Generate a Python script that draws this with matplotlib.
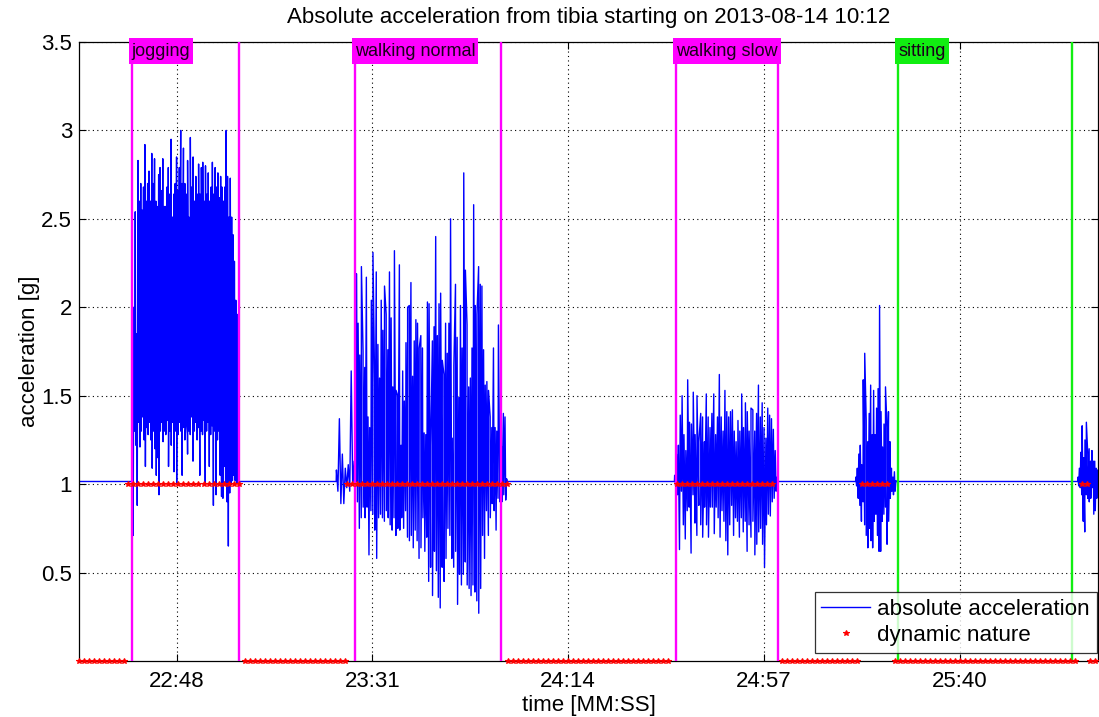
import numpy as np
import matplotlib
matplotlib.use("Agg")
import matplotlib.pyplot as plt
from matplotlib.patches import Rectangle
from matplotlib.transforms import blended_transform_factory

# ---------------- data ----------------
title = "Absolute acceleration from tibia starting on 2013-08-14 10:12"
xtick_sec = [1368, 1411, 1454, 1497, 1540]          # seconds (MM*60+SS)
xtick_labels = ["22:48", "23:31", "24:14", "24:57", "25:40"]
ytick_vals = [0.5, 1, 1.5, 2, 2.5, 3, 3.5]
ytick_labels = ["0.5", "1", "1.5", "2", "2.5", "3", "3.5"]
x_range = (1346.55, 1570.4)
baseline_g = 1.015

# activity annotations (seconds)
activity_names = ["jogging", "walking normal", "walking slow", "sitting"]
activity_start = [1358.1, 1407.1, 1477.8, 1526.5]
activity_end = [1381.7, 1439.2, 1500.2, 1564.7]
activity_colors = ["#FF00FF", "#FF00FF", "#FF00FF", "#11EE11"]

# bursts of motion in the acceleration signal: peaks (tops) and troughs (bottoms)
jog_tops = [1.47, 2.00, 2.54, 1.85, 2.83, 2.60, 2.70, 2.55, 2.68, 2.92, 2.60, 2.70, 2.77,
            2.60, 2.87, 2.70, 2.84, 2.60, 2.57, 2.75, 2.79, 2.66, 2.84, 2.57, 2.57, 2.68,
            2.79, 2.64, 2.95, 2.51, 2.64, 2.70, 2.85, 2.66, 2.79, 3.00, 2.70, 2.90, 2.70,
            2.64, 2.83, 2.51, 2.96, 2.68, 2.85, 2.60, 2.74, 2.64, 2.81, 2.64, 2.79, 2.82,
            2.60, 2.80, 2.64, 2.76, 2.60, 2.68, 2.82, 2.64, 2.79, 2.68, 2.76, 2.62, 2.74,
            2.68, 2.60, 2.68, 3.00, 2.74, 2.51, 2.73, 2.51, 2.41, 2.26, 2.04, 1.96, 1.28]
jog_bots = [0.71, 1.30, 1.22, 0.88, 1.35, 1.21, 1.30, 1.38, 1.25, 1.10, 1.32, 1.28, 1.35,
            1.25, 1.09, 1.30, 1.20, 1.05, 1.15, 0.94, 1.30, 1.35, 1.24, 1.30, 1.28, 1.36,
            1.10, 1.30, 1.22, 1.35, 1.07, 1.30, 1.00, 1.28, 1.35, 1.30, 1.05, 1.32, 1.25,
            1.35, 1.17, 1.30, 1.28, 1.38, 1.13, 1.30, 1.35, 1.25, 1.32, 1.05, 1.30, 1.28,
            1.36, 1.00, 1.30, 1.35, 1.10, 1.28, 1.33, 0.88, 1.30, 0.94, 1.25, 1.30, 1.05,
            0.93, 0.92, 1.10, 1.00, 0.90, 0.65, 0.95, 1.00, 1.02, 1.05, 1.02, 1.01, 1.01]
wn_pre_tops = [1.08, 1.37, 1.17, 1.09, 1.11, 1.64, 1.13]
wn_pre_bots = [0.96, 0.89, 0.89, 0.98, 0.96, 1.00]
wn_tops = [2.19, 1.91, 1.73, 2.23, 1.75, 1.66, 2.17, 1.38, 1.32, 2.04, 2.31, 1.58, 2.20,
           1.79, 1.60, 2.04, 1.87, 2.12, 1.96, 1.76, 2.20, 1.94, 1.55, 2.32, 1.53, 1.50,
           2.24, 1.22, 1.64, 1.47, 1.80, 2.00, 2.01, 2.14, 1.61, 1.81, 1.93, 1.91, 1.77,
           1.84, 1.77, 1.29, 1.28, 2.03, 2.02, 1.22, 1.81, 1.89, 2.40, 1.84, 2.02, 2.08,
           1.70, 1.62, 1.91, 1.74, 1.91, 2.50, 1.26, 1.67, 2.13, 1.83, 1.49, 2.01, 1.77,
           2.76, 2.21, 1.90, 1.55, 1.60, 1.77, 2.58, 2.01, 1.96, 2.23, 2.13, 2.12, 1.76,
           1.56, 1.58, 1.53, 1.38, 1.32, 1.77, 1.32, 1.30, 1.90, 1.22, 1.21, 1.40, 1.38,
           1.03]
wn_bots = [0.90, 0.75, 0.81, 0.87, 0.81, 0.87, 0.60, 0.85, 0.83, 0.74, 0.58, 0.81, 0.83,
           0.81, 0.79, 0.85, 0.81, 0.77, 0.74, 0.81, 0.71, 0.75, 0.74, 0.81, 0.75, 0.85,
           0.70, 0.68, 0.71, 0.64, 0.74, 0.68, 0.58, 0.64, 0.81, 0.62, 0.70, 0.45, 0.53,
           0.37, 0.62, 0.51, 0.36, 0.30, 0.53, 0.45, 0.58, 0.75, 0.71, 0.58, 0.53, 0.62,
           0.32, 0.49, 0.43, 0.49, 0.56, 0.43, 0.41, 0.37, 0.43, 0.39, 0.34, 0.27, 0.41,
           0.71, 0.58, 0.85, 0.71, 0.81, 0.89, 0.85, 0.74, 0.92, 0.90, 0.90, 0.94, 0.91]
ws_tops = [1.05, 1.17, 1.22, 1.39, 1.50, 1.28, 1.19, 1.59, 1.35, 1.34, 1.52, 1.28, 1.50,
           1.24, 1.40, 1.38, 1.24, 1.51, 1.38, 1.32, 1.40, 1.51, 1.28, 1.38, 1.62, 1.38,
           1.30, 1.53, 1.41, 1.38, 1.41, 1.42, 1.30, 1.24, 1.36, 1.30, 1.51, 1.32, 1.46,
           1.41, 1.30, 1.43, 1.42, 1.30, 1.40, 1.56, 1.38, 1.46, 1.32, 1.26, 1.43, 1.39,
           1.37, 1.31, 1.19, 1.04]
ws_bots = [0.99, 0.94, 0.63, 0.96, 0.77, 0.69, 0.85, 0.87, 0.61, 0.94, 0.78, 0.71, 0.88,
           0.77, 0.70, 0.87, 0.77, 0.70, 0.87, 0.87, 0.72, 0.87, 0.81, 0.70, 0.85, 0.79,
           0.68, 0.60, 0.77, 0.88, 0.71, 0.81, 0.79, 0.70, 0.81, 0.73, 0.79, 0.62, 0.77,
           0.70, 0.79, 0.60, 0.66, 0.73, 0.75, 0.66, 0.53, 0.77, 0.83, 0.82, 0.90, 0.92,
           0.96]
sw_tops = [1.04, 1.09, 1.17, 1.22, 1.11, 1.59, 1.74, 1.36, 1.24, 1.40, 1.56, 1.28, 1.53,
           1.28, 1.43, 1.54, 2.01, 1.41, 1.21, 1.34, 1.55, 1.32, 1.41, 1.24, 1.09, 1.04,
           1.07, 1.02]
sw_bots = [0.99, 0.92, 0.88, 0.79, 0.90, 0.77, 0.71, 0.64, 0.75, 0.68, 0.64, 0.79, 0.83,
           0.71, 0.62, 0.62, 0.79, 0.83, 0.87, 0.66, 0.79, 0.92, 0.96, 0.94, 0.96]
end_tops = [1.04, 1.09, 1.18, 1.33, 1.15, 1.25, 1.35, 1.17, 1.20, 1.13, 1.19, 1.13, 1.13,
            1.09, 1.08]
end_bots = [0.99, 0.98, 0.94, 0.79, 0.73, 0.94, 0.92, 0.90, 0.92, 0.98, 0.83, 0.85, 0.92]

burst_start = [1358.3, 1403.1, 1407.5, 1477.4, 1517.2, 1566.0]
burst_end = [1381.6, 1407.0, 1440.5, 1499.9, 1526.0, 1570.3]
burst_tops = [jog_tops, wn_pre_tops, wn_tops, ws_tops, sw_tops, end_tops]
burst_bots = [jog_bots, wn_pre_bots, wn_bots, ws_bots, sw_bots, end_bots]

# dynamic-nature classification segments (seconds, value 0/1), one sample per 1.1 s
dyn_start = [1346.6, 1357.4, 1383.0, 1405.4, 1440.8, 1477.9, 1500.9, 1518.5, 1525.8, 1566.8, 1568.6]
dyn_end   = [1356.6, 1382.3, 1405.2, 1440.6, 1476.5, 1499.4, 1517.8, 1524.9, 1566.0, 1567.9, 1570.4]
dyn_value = [0, 1, 0, 1, 0, 1, 0, 1, 0, 1, 0]
dyn_step = 1.1

# ---------------- build series ----------------
sig_t = [x_range[0]]
sig_v = [baseline_g]
for t0, t1, tops, bots in zip(burst_start, burst_end, burst_tops, burst_bots):
    tt = np.linspace(t0, t1, len(tops))
    half = (t1 - t0) / (2 * max(len(bots), 1))
    tb = np.linspace(t0 + half, t1 - half, len(bots))
    t_all = np.concatenate([[t0 - 0.05], tt, tb, [t1 + 0.05]])
    v_all = np.concatenate([[baseline_g], tops, bots, [baseline_g]])
    order = np.argsort(t_all, kind="stable")
    sig_t.extend(t_all[order])
    sig_v.extend(v_all[order])
sig_t.append(x_range[1])
sig_v.append(baseline_g)

dyn_t, dyn_v = [], []
for s, e, v in zip(dyn_start, dyn_end, dyn_value):
    pts = np.arange(s, e + 1e-6, dyn_step)
    dyn_t.extend(pts)
    dyn_v.extend([v] * len(pts))

# ---------------- plot ----------------
FS = 16.0
plt.rcParams["font.family"] = ["Liberation Sans", "DejaVu Sans"]
fig = plt.figure(figsize=(10.99, 7.17), dpi=100)
ax = fig.add_axes([79 / 1099, 1 - 661 / 717, (1098 - 79) / 1099, (661 - 42) / 717])
ax.set_axisbelow(True)

ax.plot(sig_t, sig_v, color="#0000FF", lw=1.0, label="absolute acceleration", zorder=2.5)

trans = blended_transform_factory(ax.transData, ax.transAxes)
label_texts = []
for name, s, e, c in zip(activity_names, activity_start, activity_end, activity_colors):
    ax.axvline(s, color=c, lw=1.7, zorder=3)
    ax.axvline(e, color=c, lw=1.7, zorder=3)
    t = ax.text(s, (661 - 51) / 619, name, transform=trans, ha="left", va="center",
                fontsize=13, color="#1a001a", zorder=6)
    label_texts.append((t, c))

ax.plot(dyn_t, dyn_v, linestyle="none", marker="*", markersize=4.2, color="#FF0000",
        markeredgewidth=0.8, label="dynamic nature", zorder=4, clip_on=False)

ax.set_xlim(*x_range)
ax.set_ylim(0, 3.5)
ax.set_xticks(xtick_sec)
ax.set_xticklabels(xtick_labels)
ax.set_yticks(ytick_vals)
ax.set_yticklabels(ytick_labels)
ax.grid(True, linestyle=(0, (1, 3)), color="black", lw=0.8)
ax.tick_params(direction="in", length=5, width=0.8, top=True, right=True,
               labelsize=FS, pad=7)
ax.tick_params(axis="y", pad=5)
for sp in ax.spines.values():
    sp.set_linewidth(0.9)

ax.set_title(title, fontsize=FS, pad=14)
ax.set_xlabel("time [MM:SS]", fontsize=FS)
ax.set_ylabel("acceleration [g]", fontsize=FS)
ax.xaxis.set_label_coords(0.5, -0.055)
ax.yaxis.set_label_coords(-0.038, 0.5)

leg = ax.legend(loc="lower right", bbox_to_anchor=(1 - 1.5 / 1019, 8 / 619),
                fontsize=16.1, frameon=True, fancybox=False,
                edgecolor="black", borderaxespad=0.0, handlelength=2.2,
                borderpad=0.3, labelspacing=0.25, handletextpad=0.3)
leg.get_frame().set_linewidth(0.9)
leg.set_zorder(7)

# label boxes around activity names (box spans 38..64 px from the top)
fig.canvas.draw()
renderer = fig.canvas.get_renderer()
H = 717
inv = ax.transAxes.inverted()
for t, c in label_texts:
    bb = t.get_window_extent(renderer)
    (ax0, ay0), (ax1, ay1) = inv.transform([(bb.x0 - 3, H - 64), (bb.x1 + 3, H - 38)])
    rect = Rectangle((ax0, ay0), ax1 - ax0, ay1 - ay0, transform=ax.transAxes,
                     facecolor=c, edgecolor=c, lw=0, zorder=5, clip_on=False)
    ax.add_patch(rect)

fig.savefig("out.png", dpi=100)
